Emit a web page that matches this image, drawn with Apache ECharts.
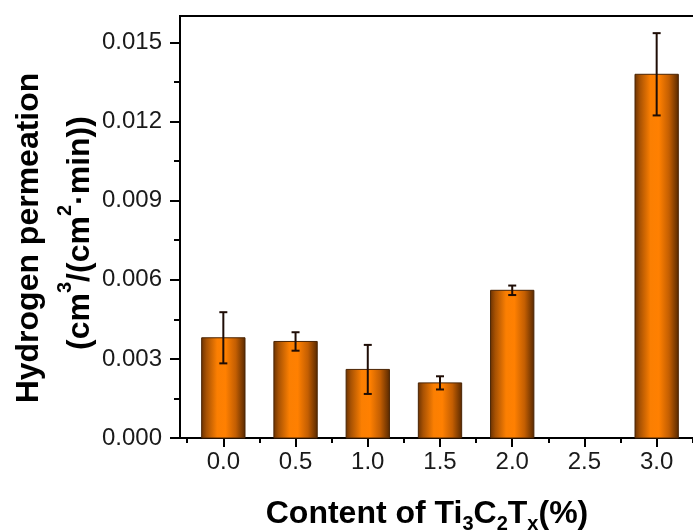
<!DOCTYPE html>
<html>
<head>
<meta charset="utf-8">
<script src="https://cdn.jsdelivr.net/npm/echarts@6/dist/echarts.min.js"></script>
<style>
  html, body { margin: 0; padding: 0; background: #fff; }
  #chart { width: 693px; height: 532px; }
</style>
</head>
<body>
<div id="chart"></div>
<script>
// Ti3C2Tx content (%) and measured hydrogen permeation, cm3/(cm2·min)
const contents = [0.0, 0.5, 1.0, 1.5, 2.0, 3.0];
const permeation = [0.0038, 0.00366, 0.0026, 0.00209, 0.0056, 0.01379];
const permeationErr = [0.00097, 0.00035, 0.00093, 0.00025, 0.00018, 0.00156];

// Axis ticks
const xMajorTicks = [0.0, 0.5, 1.0, 1.5, 2.0, 2.5, 3.0];
const xMinorTicks = [-0.25, 0.25, 0.75, 1.25, 1.75, 2.25, 2.75, 3.25];
const yMajorTicks = [0.000, 0.003, 0.006, 0.009, 0.012, 0.015];
const yMinorTicks = [0.0015, 0.0045, 0.0075, 0.0105, 0.0135];

const X_MIN = -0.3, X_MAX = 3.3, Y_MIN = 0, Y_MAX = 0.016;
const BAR_WIDTH = 0.3; // in x-axis units
const FONT = '"Liberation Sans", Arial, sans-serif';

const chart = echarts.init(document.getElementById('chart'), null, { renderer: 'canvas' });

const barFill = new echarts.graphic.LinearGradient(0, 0, 1, 0, [
  { offset: 0.00, color: '#6a3202' },
  { offset: 0.12, color: '#a85203' },
  { offset: 0.36, color: '#fb7f02' },
  { offset: 0.55, color: '#ff8001' },
  { offset: 0.78, color: '#c35e02' },
  { offset: 1.00, color: '#562801' }
]);

const seriesData = contents.map((c, i) => [c, permeation[i], permeationErr[i]]);

function renderBar(params, api) {
  const x = api.value(0);
  const y = api.value(1);
  const e = api.value(2);
  const base = api.coord([x, 0]);
  const top = api.coord([x, y]);
  const hi = api.coord([x, y + e]);
  const lo = api.coord([x, y - e]);
  const halfW = api.size([BAR_WIDTH, 0])[0] / 2;
  const cap = 4;
  const errStyle = { stroke: '#1f0d06', lineWidth: 2 };
  return {
    type: 'group',
    children: [
      {
        type: 'rect',
        shape: { x: base[0] - halfW, y: top[1], width: halfW * 2, height: base[1] - top[1] },
        style: { fill: barFill, stroke: '#4a2404', lineWidth: 1 }
      },
      { type: 'line', shape: { x1: top[0], y1: hi[1], x2: top[0], y2: lo[1] }, style: errStyle },
      { type: 'line', shape: { x1: top[0] - cap, y1: hi[1], x2: top[0] + cap, y2: hi[1] }, style: errStyle },
      { type: 'line', shape: { x1: top[0] - cap, y1: lo[1], x2: top[0] + cap, y2: lo[1] }, style: errStyle }
    ]
  };
}

const tickLabelStyle = { fontFamily: FONT, fontSize: 24, color: '#1a1a1a' };

const option = {
  animation: false,
  backgroundColor: '#fff',
  grid: {
    left: 180, top: 16, right: -7, bottom: 94,
    show: true, borderColor: '#000', borderWidth: 2, backgroundColor: 'transparent',
    outerBoundsMode: 'none'
  },
  xAxis: [
    {
      type: 'value', min: X_MIN, max: X_MAX,
      axisLine: { show: true, onZero: false, lineStyle: { color: '#000', width: 2 } },
      axisTick: { show: true, inside: false, length: 9, lineStyle: { color: '#000', width: 2 }, customValues: xMajorTicks },
      axisLabel: Object.assign({ margin: 12, customValues: xMajorTicks, formatter: v => Number(v).toFixed(1) }, tickLabelStyle),
      splitLine: { show: false }
    },
    {
      type: 'value', min: X_MIN, max: X_MAX, position: 'bottom',
      axisLine: { show: false, onZero: false },
      axisTick: { show: true, inside: false, length: 5, lineStyle: { color: '#000', width: 2 }, customValues: xMinorTicks },
      axisLabel: { show: false },
      splitLine: { show: false }
    }
  ],
  yAxis: [
    {
      type: 'value', min: Y_MIN, max: Y_MAX,
      axisLine: { show: true, onZero: false, lineStyle: { color: '#000', width: 2 } },
      axisTick: { show: true, inside: false, length: 10, lineStyle: { color: '#000', width: 2 }, customValues: yMajorTicks },
      axisLabel: Object.assign({ margin: 18, customValues: yMajorTicks, formatter: v => Number(v).toFixed(3) }, tickLabelStyle),
      splitLine: { show: false }
    },
    {
      type: 'value', min: Y_MIN, max: Y_MAX, position: 'left',
      axisLine: { show: false, onZero: false },
      axisTick: { show: true, inside: false, length: 6, lineStyle: { color: '#000', width: 2 }, customValues: yMinorTicks },
      axisLabel: { show: false },
      splitLine: { show: false }
    }
  ],
  series: [
    {
      type: 'custom',
      xAxisIndex: 0, yAxisIndex: 0,
      data: seriesData,
      renderItem: renderBar,
      z: 3
    }
  ],
  graphic: [
    {
      type: 'text', x: 29, y: 238, rotation: Math.PI / 2,
      style: {
        text: 'Hydrogen permeation', x: 0, y: 0, align: 'center', verticalAlign: 'middle',
        fontFamily: FONT, fontSize: 32, fontWeight: 'bold', fill: '#000'
      }
    },
    {
      type: 'text', x: 80, y: 233, rotation: Math.PI / 2,
      style: {
        text: '{m|(cm}{s|3}{m|/(cm}{s|2}{m|·min))}', x: 0, y: 0, align: 'center', verticalAlign: 'middle',
        rich: {
          m: { fontFamily: FONT, fontSize: 32, fontWeight: 'bold', fill: '#000', lineHeight: 50 },
          s: { fontFamily: FONT, fontSize: 20, fontWeight: 'bold', fill: '#000', verticalAlign: 'top' }
        }
      }
    },
    {
      type: 'text', x: 427, y: 514,
      style: {
        text: '{m|Content of Ti}{s|3}{m|C}{s|2}{m|T}{s|x}{m|(%)}', x: 0, y: 0, align: 'center', verticalAlign: 'middle',
        rich: {
          m: { fontFamily: FONT, fontSize: 32, fontWeight: 'bold', fill: '#000', lineHeight: 40 },
          s: { fontFamily: FONT, fontSize: 20, fontWeight: 'bold', fill: '#000', verticalAlign: 'bottom' }
        }
      }
    }
  ]
};

chart.setOption(option);
</script>
</body>
</html>
